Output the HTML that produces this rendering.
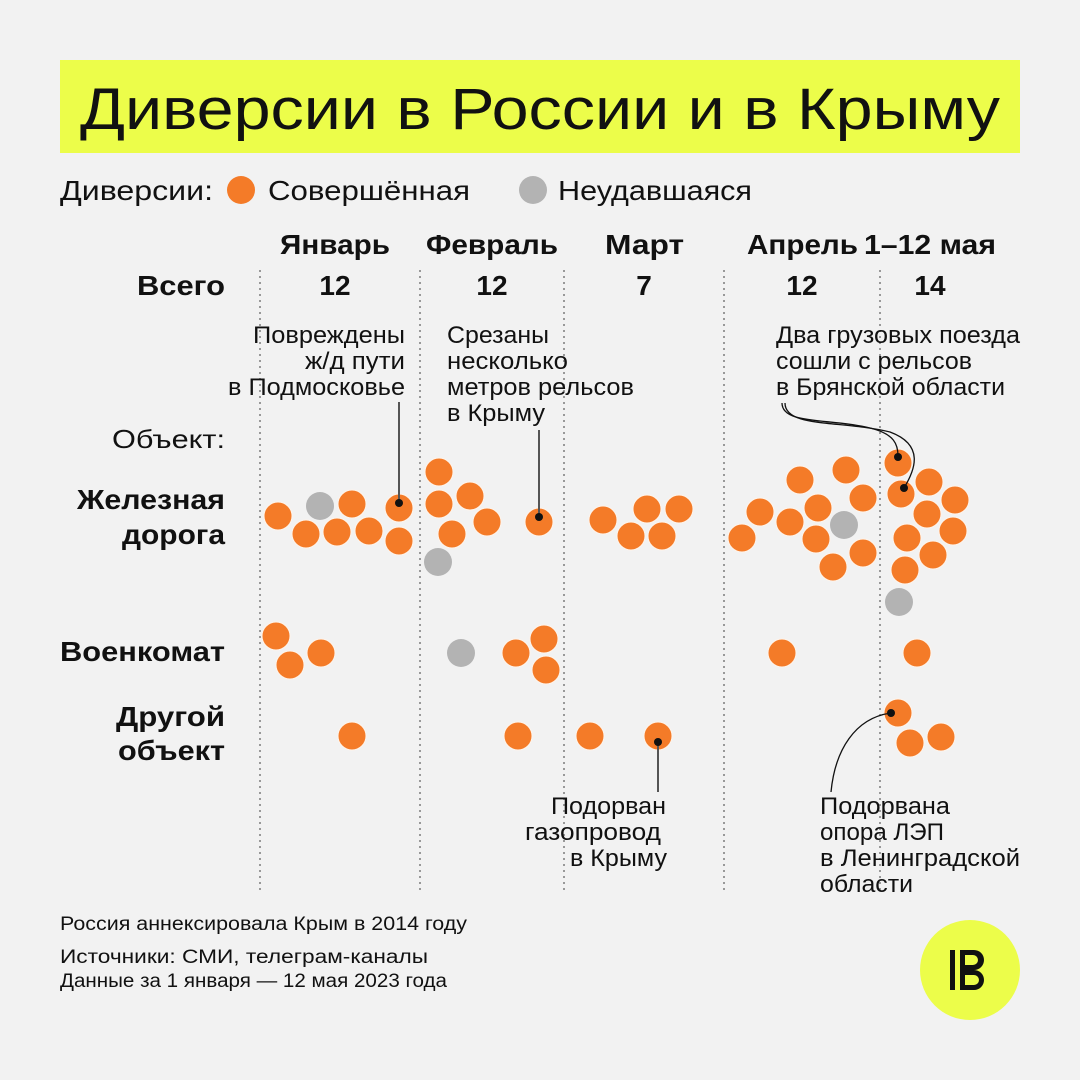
<!DOCTYPE html>
<html><head><meta charset="utf-8"><style>
body{margin:0;background:#f2f2f2}
svg{display:block}
text{font-family:"Liberation Sans","DejaVu Sans",sans-serif;fill:#111}
</style></head><body>
<svg width="1080" height="1080" viewBox="0 0 1080 1080">
<rect width="1080" height="1080" fill="#f2f2f2"/>
<rect x="60" y="60" width="960" height="93" fill="#ecfd4a"/>
<text x="80" y="129" font-size="58" textLength="920" lengthAdjust="spacingAndGlyphs">Диверсии в России и в Крыму</text>
<g font-size="28" lengthAdjust="spacingAndGlyphs">
<text x="60" y="200" textLength="153" lengthAdjust="spacingAndGlyphs">Диверсии:</text>
<text x="268" y="200" textLength="202" lengthAdjust="spacingAndGlyphs">Совершённая</text>
<text x="558" y="200" textLength="194" lengthAdjust="spacingAndGlyphs">Неудавшаяся</text>
</g>
<circle cx="241" cy="190" r="14" fill="#f47b28"/>
<circle cx="533" cy="190" r="14" fill="#b3b3b3"/>
<g stroke="#999" stroke-width="2" stroke-dasharray="2,4">
<line x1="260" y1="270" x2="260" y2="890"/><line x1="420" y1="270" x2="420" y2="890"/>
<line x1="564" y1="270" x2="564" y2="890"/><line x1="724" y1="270" x2="724" y2="890"/>
<line x1="880" y1="270" x2="880" y2="890"/>
</g>
<g font-size="28" font-weight="bold">
<text x="280" y="254" textLength="110" lengthAdjust="spacingAndGlyphs">Январь</text>
<text x="426" y="254" textLength="132" lengthAdjust="spacingAndGlyphs">Февраль</text>
<text x="605" y="254" textLength="79" lengthAdjust="spacingAndGlyphs">Март</text>
<text x="747" y="254" textLength="111" lengthAdjust="spacingAndGlyphs">Апрель</text>
<text x="864" y="254" textLength="132" lengthAdjust="spacingAndGlyphs">1–12 мая</text>
</g>
<g font-size="28" font-weight="bold" text-anchor="middle">
<text x="335" y="295">12</text><text x="492" y="295">12</text><text x="644" y="295">7</text>
<text x="802" y="295">12</text><text x="930" y="295">14</text>
</g>
<g font-size="28" font-weight="bold">
<text x="137" y="295" textLength="88" lengthAdjust="spacingAndGlyphs">Всего</text>
<text x="77" y="509" textLength="148" lengthAdjust="spacingAndGlyphs">Железная</text>
<text x="122" y="544" textLength="103" lengthAdjust="spacingAndGlyphs">дорога</text>
<text x="60" y="661" textLength="165" lengthAdjust="spacingAndGlyphs">Военкомат</text>
<text x="116" y="726" textLength="109" lengthAdjust="spacingAndGlyphs">Другой</text>
<text x="118" y="760" textLength="107" lengthAdjust="spacingAndGlyphs">объект</text>
</g>
<text x="112" y="448" font-size="26" textLength="113" lengthAdjust="spacingAndGlyphs">Объект:</text>
<g font-size="24">
<text x="253" y="343" textLength="152" lengthAdjust="spacingAndGlyphs">Повреждены</text>
<text x="305" y="369" textLength="100" lengthAdjust="spacingAndGlyphs">ж/д пути</text>
<text x="228" y="395" textLength="177" lengthAdjust="spacingAndGlyphs">в Подмосковье</text>
<text x="447" y="343" textLength="102" lengthAdjust="spacingAndGlyphs">Срезаны</text>
<text x="447" y="369" textLength="121" lengthAdjust="spacingAndGlyphs">несколько</text>
<text x="447" y="395" textLength="187" lengthAdjust="spacingAndGlyphs">метров рельсов</text>
<text x="447" y="421" textLength="98" lengthAdjust="spacingAndGlyphs">в Крыму</text>
<text x="776" y="343" textLength="244" lengthAdjust="spacingAndGlyphs">Два грузовых поезда</text>
<text x="776" y="369" textLength="196" lengthAdjust="spacingAndGlyphs">сошли с рельсов</text>
<text x="776" y="395" textLength="229" lengthAdjust="spacingAndGlyphs">в Брянской области</text>
<text x="551" y="814" textLength="115" lengthAdjust="spacingAndGlyphs">Подорван</text>
<text x="525" y="840" textLength="136" lengthAdjust="spacingAndGlyphs">газопровод</text>
<text x="570" y="866" textLength="97" lengthAdjust="spacingAndGlyphs">в Крыму</text>
<text x="820" y="814" textLength="130" lengthAdjust="spacingAndGlyphs">Подорвана</text>
<text x="820" y="840" textLength="124" lengthAdjust="spacingAndGlyphs">опора ЛЭП</text>
<text x="820" y="866" textLength="200" lengthAdjust="spacingAndGlyphs">в Ленинградской</text>
<text x="820" y="892" textLength="93" lengthAdjust="spacingAndGlyphs">области</text>
</g>
<g fill="#f47b28" stroke="#fff4ea" stroke-width="1">
<circle cx="278" cy="516" r="14"/><circle cx="352" cy="504" r="14"/><circle cx="399" cy="508" r="14"/>
<circle cx="306" cy="534" r="14"/><circle cx="337" cy="532" r="14"/><circle cx="369" cy="531" r="14"/><circle cx="399" cy="541" r="14"/>
<circle cx="439" cy="472" r="14"/><circle cx="439" cy="504" r="14"/><circle cx="470" cy="496" r="14"/>
<circle cx="487" cy="522" r="14"/><circle cx="452" cy="534" r="14"/><circle cx="539" cy="522" r="14"/>
<circle cx="603" cy="520" r="14"/><circle cx="647" cy="509" r="14"/><circle cx="679" cy="509" r="14"/>
<circle cx="631" cy="536" r="14"/><circle cx="662" cy="536" r="14"/>
<circle cx="276" cy="636" r="14"/><circle cx="290" cy="665" r="14"/><circle cx="321" cy="653" r="14"/>
<circle cx="516" cy="653" r="14"/><circle cx="544" cy="639" r="14"/><circle cx="546" cy="670" r="14"/>
<circle cx="352" cy="736" r="14"/><circle cx="518" cy="736" r="14"/><circle cx="590" cy="736" r="14"/><circle cx="658" cy="736" r="14"/>
<circle cx="800" cy="480" r="14"/><circle cx="846" cy="470" r="14"/><circle cx="760" cy="512" r="14"/>
<circle cx="818" cy="508" r="14"/><circle cx="863" cy="498" r="14"/><circle cx="742" cy="538" r="14"/>
<circle cx="790" cy="522" r="14"/><circle cx="816" cy="539" r="14"/><circle cx="863" cy="553" r="14"/><circle cx="833" cy="567" r="14"/>
<circle cx="898" cy="463" r="14"/><circle cx="901" cy="494" r="14"/><circle cx="929" cy="482" r="14"/>
<circle cx="955" cy="500" r="14"/><circle cx="927" cy="514" r="14"/><circle cx="953" cy="531" r="14"/>
<circle cx="907" cy="538" r="14"/><circle cx="933" cy="555" r="14"/><circle cx="905" cy="570" r="14"/>
<circle cx="782" cy="653" r="14"/><circle cx="917" cy="653" r="14"/>
<circle cx="898" cy="713" r="14"/><circle cx="910" cy="743" r="14"/><circle cx="941" cy="737" r="14"/>
</g>
<g fill="#b3b3b3">
<circle cx="320" cy="506" r="14"/><circle cx="438" cy="562" r="14"/><circle cx="461" cy="653" r="14"/>
<circle cx="844" cy="525" r="14"/><circle cx="899" cy="602" r="14"/>
</g>
<g stroke="#555" stroke-width="2" fill="none">
<line x1="399" y1="402" x2="399" y2="505"/>
<line x1="539" y1="430" x2="539" y2="519"/>
<line x1="658" y1="739" x2="658" y2="792"/>
</g>
<g stroke="#111" stroke-width="1.3" fill="none">
<path d="M782 403 C782 425 830 418 870 428 C895 434 898 445 898 456"/>
<path d="M785 403 C785 428 840 420 890 432 C925 445 915 470 904 488"/>
<path d="M831 792 C835 750 855 718 891 713"/>
</g>
<g fill="#111">
<circle cx="399" cy="503" r="4"/><circle cx="539" cy="517" r="4"/><circle cx="658" cy="742" r="4"/>
<circle cx="898" cy="457" r="4"/><circle cx="904" cy="488" r="4"/><circle cx="891" cy="713" r="4"/>
</g>
<g font-size="19">
<text x="60" y="930" textLength="407" lengthAdjust="spacingAndGlyphs">Россия аннексировала Крым в 2014 году</text>
<text x="60" y="963" textLength="368" lengthAdjust="spacingAndGlyphs">Источники: СМИ, телеграм-каналы</text>
<text x="60" y="987" textLength="387" lengthAdjust="spacingAndGlyphs">Данные за 1 января — 12 мая 2023 года</text>
</g>
<circle cx="970" cy="970" r="50" fill="#ecfd4a"/>
<rect x="950" y="950" width="5" height="40" fill="#111"/>
<path d="M960 950 h14 a10 10 0 0 1 0 20 a10 10 0 0 1 0 20 h-14 z M965 955 v10 h8 a5 5 0 0 0 0 -10 z M965 975 v10 h9 a5 5 0 0 0 0 -10 z" fill="#111" fill-rule="evenodd"/>
</svg>
</body></html>
